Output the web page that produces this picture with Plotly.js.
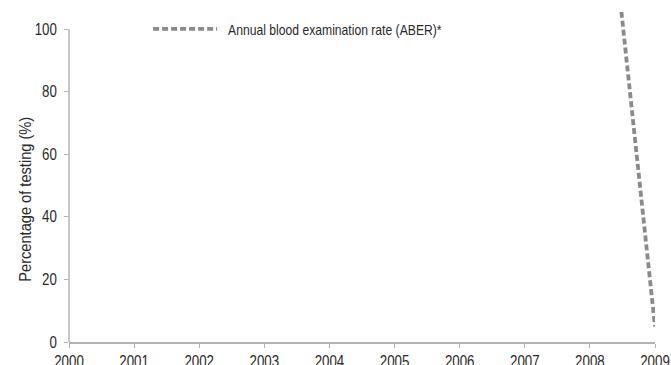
<!DOCTYPE html>
<html>
<head>
<meta charset="utf-8">
<script src="https://cdn.plot.ly/plotly-3.0.1.min.js"></script>
<style>
html,body{margin:0;padding:0;background:#fff}
#chart{width:671px;height:365px}
</style>
</head>
<body>
<div id="chart"></div>
<script>
const years = [2008, 2009];
const aberValues = [200, 4.9];
const seriesName = "Annual blood examination rate (ABER)*";
const yTicks = [0, 20, 40, 60, 80, 100];
const xTicks = [2000, 2001, 2002, 2003, 2004, 2005, 2006, 2007, 2008, 2009];
const yTitle = "Percentage of testing (%)";

const FONT = '"Liberation Sans", "DejaVu Sans", sans-serif';
const axisColor = '#b3b3b3';
const textColor = '#2a2a2a';

const trace = {
  x: years,
  y: aberValues,
  type: 'scatter',
  mode: 'lines',
  name: seriesName,
  line: {color: '#8a8a8a', width: 3.8, dash: '6px,3px'}
};

const layout = {
  width: 671, height: 365,
  margin: {l: 69, r: 16, t: 12, b: 23, autoexpand: false},
  paper_bgcolor: '#fff', plot_bgcolor: '#fff',
  font: {family: FONT, size: 16, color: textColor},
  showlegend: true,
  legend: {x: 0.135, y: 0.948, xanchor: 'left', yanchor: 'middle', yref: 'paper',
           font: {family: FONT, size: 15, color: textColor}, bgcolor: 'rgba(0,0,0,0)',
           itemwidth: 64},
  xaxis: {
    range: [2000, 2009], tickvals: xTicks, ticktext: xTicks.map(String),
    showgrid: false, zeroline: false, showline: true, linecolor: axisColor, linewidth: 1.5,
    ticks: 'outside', ticklen: 4, tickcolor: axisColor, tickwidth: 1,
    ticklabeloverflow: 'allow', automargin: false,
    tickfont: {family: FONT, size: 16, color: textColor}, fixedrange: true
  },
  yaxis: {
    range: [0, 105.5], tickvals: yTicks, ticktext: yTicks.map(String),
    showgrid: false, zeroline: false, showline: false, automargin: false,
    ticks: 'outside', ticklen: 4, tickcolor: axisColor, tickwidth: 1, ticklabelstandoff: 4,
    tickfont: {family: FONT, size: 16, color: textColor}, fixedrange: true
  },
  shapes: [{
    type: 'line', xref: 'paper', yref: 'y', x0: 0, x1: 0, y0: yTicks[0], y1: yTicks[yTicks.length - 1],
    line: {color: axisColor, width: 1.5}
  }],
  annotations: [{
    text: yTitle, textangle: -90, xref: 'paper', yref: 'paper',
    x: -0.075, y: 0.433, xanchor: 'center', yanchor: 'middle', showarrow: false,
    font: {family: FONT, size: 17, color: textColor}
  }]
};

// emulate the condensed typeface of the original by narrowing glyphs
function condense(selector, factor, dx) {
  document.querySelectorAll(selector).forEach(function (t) {
    const w = t.getComputedTextLength();
    if (!w) return;
    t.setAttribute('textLength', (w * factor).toFixed(2));
    t.setAttribute('lengthAdjust', 'spacingAndGlyphs');
    if (dx) t.setAttribute('x', (parseFloat(t.getAttribute('x') || 0) + dx).toString());
  });
}

Plotly.newPlot('chart', [trace], layout, {displayModeBar: false, staticPlot: true}).then(function () {
  condense('.xtick text', 0.83);
  condense('.ytick text', 0.83);
  condense('.legendtext', 0.81, 6);
  condense('.annotation-text', 0.86);
});
</script>
</body>
</html>
